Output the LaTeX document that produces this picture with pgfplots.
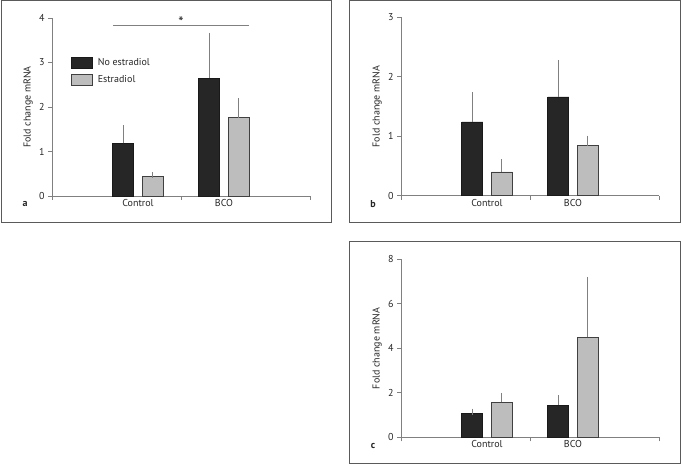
\documentclass[border=0pt]{standalone}
\usepackage{pgfplots}
\pgfplotsset{compat=1.18}
\usepackage{fontspec}
\setmainfont{PT Sans}
\definecolor{axgray}{HTML}{808080}
\definecolor{framegray}{HTML}{5A5A5A}
\definecolor{barblack}{HTML}{262626}
\definecolor{bargray}{HTML}{BDBDBD}
\definecolor{txt}{HTML}{262626}
\pgfplotsset{
  panel/.style={
    scale only axis, width=258pt, height=178pt,
    xmin=0, xmax=3, ymin=0,
    axis x line=bottom, axis y line=left,
    axis line style={-, draw=axgray, line width=0.9pt},
    xtick={0,1.5,3}, xticklabels={},
    extra x ticks={1,2}, extra x tick labels={Control,BCO},
    extra x tick style={major tick length=0pt},
    major tick length=4pt, tick align=outside,
    tick style={axgray, line width=0.9pt},
    /pgf/number format/assume math mode=true,
    tick label style={font=\fontsize{10}{12}\selectfont, text=txt},
    ylabel={Fold change mRNA},
    ylabel style={at={(axis description cs:-0.093,0.5)}, anchor=center, font=\fontsize{10}{12}\selectfont, text=txt},
    ybar, bar width=21pt, clip=false,
    error bars/y dir=plus, error bars/y explicit,
    error bars/error bar style={axgray, line width=0.9pt},
    error bars/error mark options={axgray, line width=0.9pt, mark size=3pt},
  },
  blackbar/.style={fill=barblack, draw=black!90, line width=0.8pt, bar shift=-14.75pt},
  graybar/.style={fill=bargray, draw=black!75, line width=0.8pt, bar shift=14.75pt},
}
\begin{document}
\begin{tikzpicture}[x=1pt,y=1pt]
\useasboundingbox (0,0) rectangle (681,465);
% frames
\draw[framegray, line width=1pt] (1,242.3) rectangle (331.7,464.5);
\draw[framegray, line width=1pt] (349.3,242.3) rectangle (680,464.5);
\draw[framegray, line width=1pt] (349.3,1.7) rectangle (680,223.3);
% panel a
\begin{axis}[panel, at={(52pt,269pt)}, anchor=south west,
  ymax=4, ytick={0,1,2,3,4},
  legend image code/.code={\draw[#1] (0pt,-5.5pt) rectangle (21pt,5.5pt); \path (26pt,0pt);},
  legend style={at={(rel axis cs:0.0736,0.781)}, anchor=north west, draw=none, fill=none,
    inner sep=0pt, outer sep=0pt, row sep=5.5pt, font=\fontsize{10}{12}\selectfont,
    nodes={inner sep=0pt, text=txt}},
  legend cell align=left]
\addplot[blackbar] coordinates {(1,1.18) +- (0,0.34) (2,2.65) +- (0,0.95)};
\addplot[graybar] coordinates {(1,0.43) +- (0,0.04) (2,1.76) +- (0,0.37)};
\legend{No estradiol, Estradiol}
\draw[axgray, line width=0.9pt] (axis cs:0.71,3.83) -- (axis cs:2.29,3.83);
\node[text=txt, font=\fontsize{15}{15}\selectfont] at (axis cs:1.5,3.90) {*};
\end{axis}
% panel b
\begin{axis}[panel, at={(401pt,269.3pt)}, anchor=south west, height=178.4pt,
  ymax=3, ytick={0,1,2,3}]
\addplot[blackbar] coordinates {(1,1.24) +- (0,0.45) (2,1.66) +- (0,0.57)};
\addplot[graybar] coordinates {(1,0.40) +- (0,0.16) (2,0.84) +- (0,0.12)};
\end{axis}
% panel c
\begin{axis}[panel, at={(401pt,27.7pt)}, anchor=south west,
  ymax=8, ytick={0,2,4,6,8}]
\addplot[blackbar] coordinates {(1,1.08) +- (0,0.07) (2,1.45) +- (0,0.30)};
\addplot[graybar] coordinates {(1,1.57) +- (0,0.29) (2,4.49) +- (0,2.59)};
\end{axis}
% panel letters
\node[font=\bfseries\fontsize{10}{12}\selectfont, text=txt] at (25,261) {a};
\node[font=\bfseries\fontsize{10}{12}\selectfont, text=txt] at (373,261) {b};
\node[font=\bfseries\fontsize{10}{12}\selectfont, text=txt] at (373,19.3) {c};
\end{tikzpicture}
\end{document}
